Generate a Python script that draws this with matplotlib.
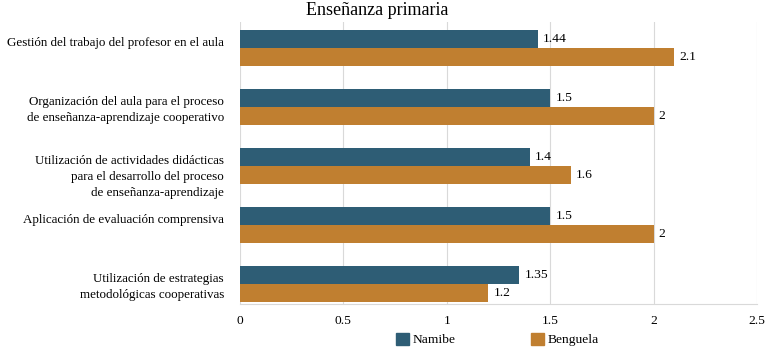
import matplotlib.pyplot as plt
from matplotlib.patches import Patch

categories = [
    "Gestión del trabajo del profesor en el aula\n",
    "Organización del aula para el proceso\nde enseñanza-aprendizaje cooperativo",
    "\nUtilización de actividades didácticas\npara el desarrollo del proceso\nde enseñanza-aprendizaje",
    "Aplicación de evaluación comprensiva\n",
    "Utilización de estrategias\nmetodológicas cooperativas",
]
namibe = [1.44, 1.5, 1.4, 1.5, 1.35]
benguela = [2.1, 2.0, 1.6, 2.0, 1.2]
namibe_labels = ["1.44", "1.5", "1.4", "1.5", "1.35"]
benguela_labels = ["2.1", "2", "1.6", "2", "1.2"]
xticks = [0, 0.5, 1, 1.5, 2, 2.5]
xtick_labels = ["0", "0.5", "1", "1.5", "2", "2.5"]

c_nam = "#2E5D75"
c_ben = "#C07F30"

plt.rcParams["font.family"] = ["Liberation Serif", "DejaVu Serif"]

fig = plt.figure(figsize=(7.7, 3.53), dpi=100)
ax = fig.add_axes([240 / 770, 1 - 304 / 353, 517 / 770, 282 / 353])

n = len(categories)
ypos = [n - 1 - i for i in range(n)]
h = 0.31
ax.barh([y + h / 2 for y in ypos], namibe, height=h, color=c_nam, zorder=2)
ax.barh([y - h / 2 for y in ypos], benguela, height=h, color=c_ben, zorder=2)

for y, v, lab in zip(ypos, namibe, namibe_labels):
    ax.text(v + 0.025, y + h / 2, lab, va="center", ha="left", fontsize=9.7)
for y, v, lab in zip(ypos, benguela, benguela_labels):
    ax.text(v + 0.025, y - h / 2, lab, va="center", ha="left", fontsize=9.7)

ax.set_xlim(0, 2.5)
ax.set_ylim(-0.34, n - 1 + 0.44)
ax.set_xticks(xticks)
ax.set_xticklabels(xtick_labels, fontsize=9.7)
ax.set_yticks(ypos)
ax.set_yticklabels(categories, fontsize=9.4, linespacing=1.42)
ax.tick_params(length=0)
ax.tick_params(axis="y", pad=11.5)
ax.tick_params(axis="x", pad=8)
ax.grid(axis="x", color="#D9D9D9", linewidth=0.8, zorder=0)
for s in ["top", "right", "left"]:
    ax.spines[s].set_visible(False)
ax.spines["bottom"].set_color("#D9D9D9")

fig.suptitle("Enseñanza primaria", x=0.49, y=0.995, fontsize=13)

handles = [Patch(color=c_nam, label="Namibe"), Patch(color=c_ben, label="Benguela")]
fig.legend(handles=handles, loc="lower center", ncol=2, frameon=False,
           bbox_to_anchor=(0.646, -0.015), fontsize=9.7, handlelength=1.0,
           handleheight=1.0, handletextpad=0.25, columnspacing=5.6)

fig.savefig("out.png", dpi=100)
